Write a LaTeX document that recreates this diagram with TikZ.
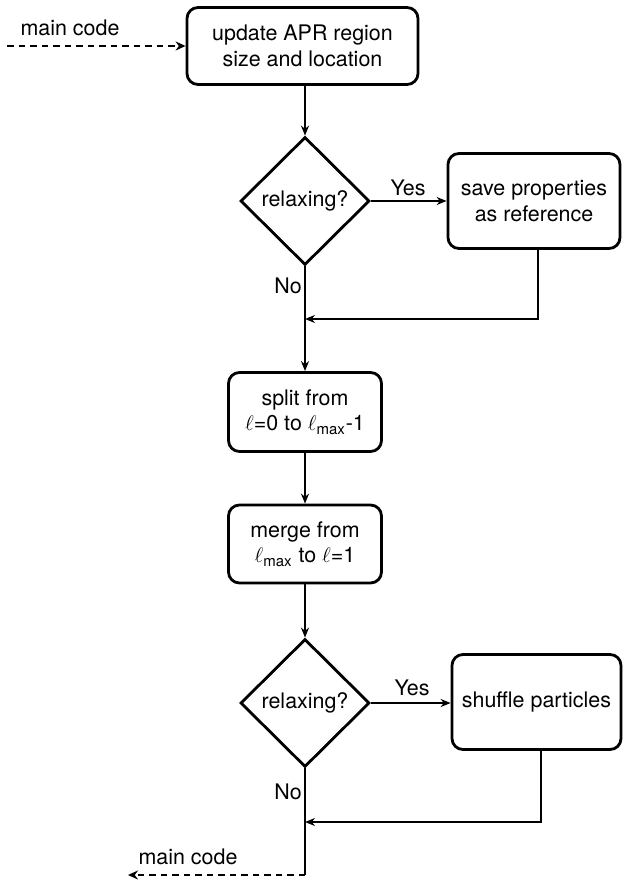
\documentclass[tikz,border=0pt]{standalone}
\usepackage{fontspec}
\setmainfont{TeX Gyre Heros}
\usetikzlibrary{positioning, arrows.meta, shapes.geometric}

\begin{document}
\begin{tikzpicture}[
  box/.style={draw, line width=1.6pt, rounded corners=0.22cm, align=center, font=\fontsize{12.2}{14.6}\selectfont},
  decision/.style={draw, diamond, line width=1.6pt, inner sep=0pt, minimum width=2.58cm, minimum height=2.56cm, font=\fontsize{12.2}{14.6}\selectfont},
  label/.style={font=\fontsize{12.2}{14.6}\selectfont},
  arrow/.style={-{Stealth[length=2mm, width=1.6mm]}, line width=0.8pt},
  dasharrow/.style={-{Stealth[length=2mm, width=1.8mm]}, line width=1.1pt, dash pattern=on 1.3mm off 1mm}
]
  \useasboundingbox (0,0) rectangle (12.54,-17.62);

  % Entry from main code
  \node[label] (maintop) at (1.4, -0.56) {main code};
  \coordinate (entry) at (0.14, -0.92);
  \node[box, minimum width=4.62cm, minimum height=1.54cm] (update) at (6.05, -0.92) {update APR region\\size and location};
  \draw[dasharrow] (entry) -- (update.west);

  % First check
  \node[decision] (relax1) at (6.1, -4.02) {relaxing?};
  \node[box, minimum width=3.44cm, minimum height=1.9cm] (save) at (10.68, -4.02) {save properties\\as reference};
  \draw[arrow] (update.south -| relax1.north) -- (relax1.north);
  \draw[arrow] (relax1.east) -- (save.west);
  \node[label] (yes1) at (8.16, -3.76) {Yes};
  \node[label] (no1) at (5.76, -5.72) {No};

  % Split and merge
  \node[box, minimum width=3.06cm, minimum height=1.58cm] (split) at (6.1, -8.24) {split from\\\(\ell\)=0 to \(\ell\)\textsubscript{max}-1};
  \node[box, minimum width=3.06cm, minimum height=1.56cm] (merge) at (6.1, -10.88) {merge from\\\(\ell\)\textsubscript{max} to \(\ell\)=1};
  \coordinate (join1) at (6.1, -6.38);
  \draw[arrow] (relax1.south) -- (split.north);
  \draw[arrow] (save.south -| 10.76,0) |- (join1);
  \draw[arrow] (split) -- (merge);

  % Second check
  \node[decision] (relax2) at (6.1, -14.06) {relaxing?};
  \node[box, minimum width=3.38cm, minimum height=1.9cm] (shuffle) at (10.73, -14.04) {shuffle particles};
  \draw[arrow] (merge) -- (relax2);
  \draw[arrow] (relax2.east) -- (relax2.east -| shuffle.west);
  \node[label] (yes2) at (8.24, -13.76) {Yes};
  \node[label] (no2) at (5.76, -15.84) {No};
  \coordinate (join2) at (6.1, -16.44);
  \draw[arrow] (shuffle.south -| 10.82,0) |- (join2);

  % Back to main code
  \coordinate (turn) at (6.1, -17.5);
  \coordinate (exit) at (2.56, -17.5);
  \node[label] (mainbot) at (3.76, -17.14) {main code};
  \draw[line width=0.8pt] (relax2.south) -- (turn);
  \draw[dasharrow] (turn) -- (exit);
\end{tikzpicture}
\end{document}
